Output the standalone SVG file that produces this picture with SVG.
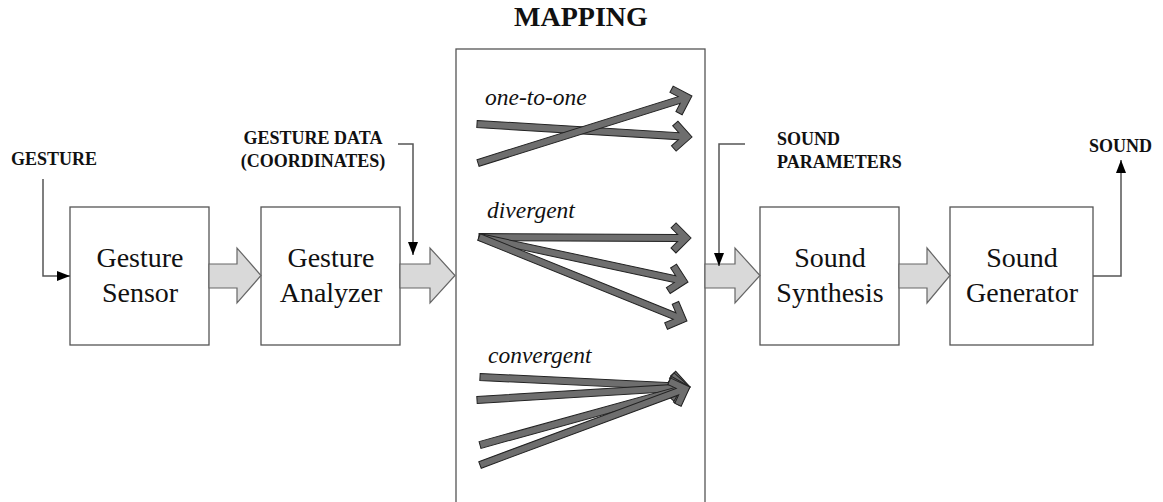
<svg xmlns="http://www.w3.org/2000/svg" width="1163" height="502" viewBox="0 0 1163 502">
  <style>
    text { font-family: "Liberation Serif", "DejaVu Serif", "Times New Roman", serif; fill: #111111; }
    .box { fill: #ffffff; stroke: #555555; stroke-width: 1.3; }
    .big { font-size: 28px; text-anchor: middle; }
    .cap { font-size: 18px; font-weight: bold; }
    .title { font-size: 28px; font-weight: bold; text-anchor: middle; }
    .kind { font-size: 23.5px; font-style: italic; }
    .flow { fill: #d9d9d9; stroke: #666666; stroke-width: 1.2; stroke-linejoin: miter; }
    .lead { fill: none; stroke: #555555; stroke-width: 1.5; }
    .map { fill: #6e6e6e; stroke: #222222; stroke-width: 1; stroke-linejoin: miter; }
  </style>
  <defs>
    <marker id="tri" viewBox="0 0 13 10" refX="13" refY="5" markerWidth="13" markerHeight="10" markerUnits="userSpaceOnUse" orient="auto">
      <path d="M0,0 L13,5 L0,10 Z" fill="#000000"/>
    </marker>
  </defs>

  <rect width="1163" height="502" fill="#ffffff"/>

  <!-- mapping stage frame -->
  <g id="mapping">
    <text class="title" x="581" y="26">MAPPING</text>
    <rect class="box" x="456" y="49" width="249" height="460"/>
    <text class="kind" x="485" y="105">one-to-one</text>
    <text class="kind" x="487" y="218">divergent</text>
    <text class="kind" x="488" y="363">convergent</text>

    <!-- one-to-one -->
    <g transform="translate(477,124) rotate(3.46)">
      <polygon class="map" points="0,-3.5 202,-3.5 195.45,-10.05 200.4,-15 215.4,0 200.4,15 195.45,10.05 202,3.5 0,3.5"/>
    </g>
    <g transform="translate(478,163) rotate(-17.385)">
      <polygon class="map" points="0,-3.5 210.8,-3.5 204.25,-10.05 209.2,-15 224.2,0 209.2,15 204.25,10.05 210.8,3.5 0,3.5"/>
    </g>

    <!-- divergent -->
    <g transform="translate(479,237) rotate(0.27)">
      <polygon class="map" points="0,-3.5 198.6,-3.5 192.05,-10.05 197,-15 212,0 197,15 192.05,10.05 198.6,3.5 0,3.5"/>
    </g>
    <g transform="translate(479,237) rotate(12.15)">
      <polygon class="map" points="0,-3.5 200.4,-3.5 193.85,-10.05 198.8,-15 213.8,0 198.8,15 193.85,10.05 200.4,3.5 0,3.5"/>
    </g>
    <g transform="translate(479,237) rotate(22.0)">
      <polygon class="map" points="0,-3.5 210.9,-3.5 204.35,-10.05 209.3,-15 224.3,0 209.3,15 204.35,10.05 210.9,3.5 0,3.5"/>
    </g>

    <!-- convergent -->
    <g transform="translate(480,377) rotate(2.73)">
      <polygon class="map" points="0,-3.5 196.8,-3.5 190.25,-10.05 195.2,-15 210.2,0 195.2,15 190.25,10.05 196.8,3.5 0,3.5"/>
    </g>
    <g transform="translate(477,400) rotate(-3.49)">
      <polygon class="map" points="0,-3.5 200,-3.5 193.45,-10.05 198.4,-15 213.4,0 198.4,15 193.45,10.05 200,3.5 0,3.5"/>
    </g>
    <g transform="translate(480,445) rotate(-15.44)">
      <polygon class="map" points="0,-3.5 204.5,-3.5 197.95,-10.05 202.9,-15 217.9,0 202.9,15 197.95,10.05 204.5,3.5 0,3.5"/>
    </g>
    <g transform="translate(480,465) rotate(-20.38)">
      <polygon class="map" points="0,-3.5 210.6,-3.5 204.05,-10.05 209,-15 224,0 209,15 204.05,10.05 210.6,3.5 0,3.5"/>
    </g>
  </g>

  <g id="gesture-sensor">
    <rect class="box" x="70" y="207" width="139" height="138"/>
    <text class="big" x="140" y="267">Gesture</text>
    <text class="big" x="140" y="302">Sensor</text>
  </g>

  <g id="gesture-analyzer">
    <rect class="box" x="261" y="207" width="139" height="138"/>
    <text class="big" x="331" y="267">Gesture</text>
    <text class="big" x="331" y="302">Analyzer</text>
  </g>

  <g id="sound-synthesis">
    <rect class="box" x="760" y="207" width="139" height="138"/>
    <text class="big" x="830" y="267">Sound</text>
    <text class="big" x="830" y="302">Synthesis</text>
  </g>

  <g id="sound-generator">
    <rect class="box" x="950" y="207" width="143" height="138"/>
    <text class="big" x="1022" y="267">Sound</text>
    <text class="big" x="1022" y="302">Generator</text>
  </g>

  <!-- signal labels -->
  <g id="labels">
    <text class="cap" x="11" y="165">GESTURE</text>
    <text class="cap" x="313" y="144" text-anchor="middle">GESTURE DATA</text>
    <text class="cap" x="313" y="167" text-anchor="middle">(COORDINATES)</text>
    <text class="cap" x="777" y="145">SOUND</text>
    <text class="cap" x="777" y="168">PARAMETERS</text>
    <text class="cap" x="1089" y="152">SOUND</text>
  </g>

  <g id="connectors">
    <!-- block flow arrows between stages -->
    <polygon class="flow" points="209,264 237,264 237,248 261,275.5 237,303 237,288 209,288"/>
    <polygon class="flow" points="400,264 430,264 430,248 455,275.5 430,303 430,288 400,288"/>
    <polygon class="flow" points="705,264 735,264 735,248 760,275.5 735,303 735,288 705,288"/>
    <polygon class="flow" points="899,264 927,264 927,248 950,275.5 927,303 927,288 899,288"/>

    <!-- leader lines -->
    <path class="lead" d="M43,179 V276 H70" marker-end="url(#tri)"/>
    <path class="lead" d="M398,144 H413 V255" marker-end="url(#tri)"/>
    <path class="lead" d="M745,144 H719 V266" marker-end="url(#tri)"/>
    <path class="lead" d="M1093,276 H1121 V160" marker-end="url(#tri)"/>
  </g>
</svg>
